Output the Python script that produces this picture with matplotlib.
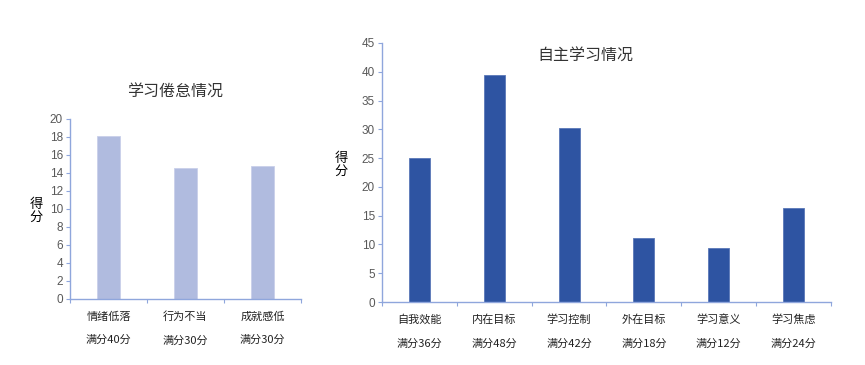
import matplotlib.pyplot as plt
import numpy as np

plt.rcParams['font.family'] = ['Noto Sans CJK SC', 'DejaVu Sans']

# 学习倦怠
cat1 = ['情绪低落', '行为不当', '成就感低']
full1 = ['满分40分', '满分30分', '满分30分']
val1 = [18.1, 14.5, 14.8]

# 自主学习
cat2 = ['自我效能', '内在目标', '学习控制', '外在目标', '学习意义', '学习焦虑']
full2 = ['满分36分', '满分48分', '满分42分', '满分18分', '满分12分', '满分24分']
val2 = [25.0, 39.5, 30.3, 11.1, 9.3, 16.3]

axis_col = '#8FA6DC'
tick_col = '#595959'

fig = plt.figure(figsize=(8.65, 3.65), dpi=100)


def style(ax, n, cats, fulls, ymax, ystep):
    ax.set_xlim(-0.5, n - 0.5)
    ax.set_ylim(0, ymax)
    ax.set_yticks(np.arange(0, ymax + 0.1, ystep))
    for lab in ax.get_yticklabels():
        lab.set_family('Liberation Sans')
    for s in ['top', 'right']:
        ax.spines[s].set_visible(False)
    for s in ['left', 'bottom']:
        ax.spines[s].set_color(axis_col)
        ax.spines[s].set_linewidth(1.0)
    ax.tick_params(axis='y', colors=axis_col, labelcolor=tick_col,
                   labelsize=8.5, length=3, width=0.8, pad=2)
    ax.set_xticks(np.arange(n))
    ax.set_xticklabels([c + '\n\n' + f for c, f in zip(cats, fulls)],
                       fontsize=8, linespacing=1.2, color='#222222')
    ax.tick_params(axis='x', length=0, pad=9)
    ax.set_xticks(np.arange(n + 1) - 0.5, minor=True)
    ax.tick_params(axis='x', which='minor', colors=axis_col, length=3, width=0.8)


ax1 = fig.add_axes([0.0809, 0.181, 0.267, 0.493])
ax1.bar(np.arange(len(val1)), val1, width=0.29, color='#B0BBDF',
        edgecolor='#C9D0EA', linewidth=0.6, zorder=2)
style(ax1, len(cat1), cat1, full1, 20, 2)
fig.text(0.2024, 1 - 92 / 365, '学习倦怠情况', ha='center', va='center',
         fontsize=11.5, color='#333333')
fig.text(36 / 865, 1 - 211 / 365, '得\n分', ha='center', va='center',
         fontsize=9.5, linespacing=1.0, fontweight='medium')

ax2 = fig.add_axes([0.4416, 0.1726, 0.519, 0.7096])
ax2.bar(np.arange(len(val2)), val2, width=0.28, color='#2E54A2',
        edgecolor='#5A77B8', linewidth=0.6, zorder=2)
style(ax2, len(cat2), cat2, full2, 45, 5)
fig.text(585 / 865, 1 - 56 / 365, '自主学习情况', ha='center', va='center',
         fontsize=11.5, color='#333333')
fig.text(341 / 865, 1 - 165 / 365, '得\n分', ha='center', va='center',
         fontsize=9.5, linespacing=1.0, fontweight='medium')

fig.savefig('out.png', dpi=100)
